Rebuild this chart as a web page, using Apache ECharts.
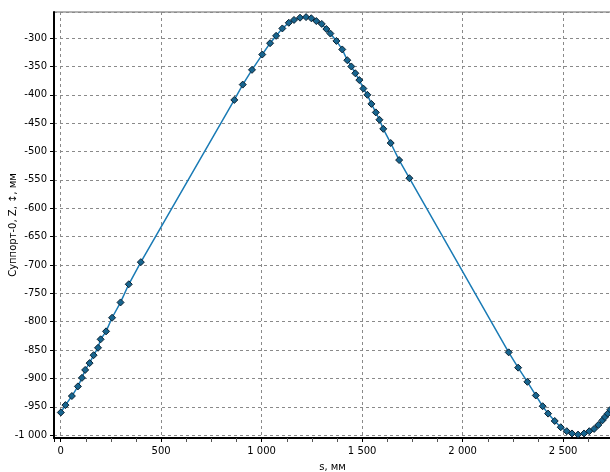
<!DOCTYPE html>
<html>
<head>
<meta charset="utf-8">
<script src="https://cdn.jsdelivr.net/npm/echarts@6/dist/echarts.min.js"></script>
<style>
html,body{margin:0;padding:0;background:#fff;}
#chart{width:610px;height:472px;}
</style>
</head>
<body>
<div id="chart"></div>
<script>
// путь s, мм
var sValues = [1, 24, 56, 86, 106, 122, 144, 164, 186, 199,
	226, 256, 298, 339, 399, 864, 906, 952, 1003, 1042,
	1072, 1103, 1135, 1161, 1191, 1221, 1247, 1272, 1299, 1322,
	1342, 1372, 1401, 1426, 1446, 1466, 1486, 1506, 1526, 1546,
	1568, 1586, 1605, 1642, 1684, 1735, 2229, 2276, 2322, 2364,
	2398, 2425, 2458, 2488, 2518, 2544, 2574, 2604, 2630, 2654,
	2675, 2695, 2708, 2722, 2735, 2750];
// Суппорт-0, Z, мм
var zValues = [-960, -947, -931, -914, -899, -885, -873, -859, -846, -831,
	-817, -793, -766, -734, -695, -409, -382, -356, -329, -309,
	-296, -283, -273, -268, -264, -263, -265, -270, -275, -284,
	-292, -305, -320, -339, -350, -362, -374, -389, -400, -416,
	-431, -444, -460, -485, -515, -547, -854, -881, -906, -930,
	-949, -962, -975, -986, -993, -997, -999, -997, -993, -989,
	-982, -974, -968, -962, -955, -945];

var xName = 's, мм';
var yName = 'Суппорт-0, Z, ↕, мм';

var points = [];
for (var i = 0; i < sValues.length; i++) {
	points.push([sValues[i], zValues[i]]);
}

function fmt(v) {
	return String(v).replace(/\B(?=(\d{3})+(?!\d))/g, ' ');
}

var gridLine = {
	show: true,
	lineStyle: { color: '#8a8a8a', width: 1, type: [3, 3] }
};

var option = {
	animation: false,
	backgroundColor: '#fff',
	grid: {
		left: 54, top: 12, right: -1, bottom: 34,
		outerBoundsMode: 'none',
		containLabel: false,
		show: true, borderColor: '#666', borderWidth: 1
	},
	xAxis: {
		type: 'value',
		min: -33, max: 2738,
		minInterval: 500, maxInterval: 500,
		name: xName,
		nameLocation: 'middle',
		nameGap: 24,
		nameMoveOverlap: false,
		nameTextStyle: { color: '#000', fontFamily: 'DejaVu Sans', fontSize: 10 },
		axisLine: { show: true, onZero: false, lineStyle: { color: '#000', width: 2 } },
		axisTick: { show: true, length: 4, lineStyle: { color: '#000' } },
		minorTick: { show: true, splitNumber: 4, length: 4, lineStyle: { color: '#555' } },
		axisLabel: {
			color: '#000', fontFamily: 'DejaVu Sans', fontSize: 10, margin: 8,
			showMinLabel: false, showMaxLabel: false,
			formatter: fmt
		},
		splitLine: gridLine
	},
	yAxis: {
		type: 'value',
		min: -1005, max: -254,
		minInterval: 50, maxInterval: 50,
		name: yName,
		nameLocation: 'middle',
		nameGap: 36,
		nameMoveOverlap: false,
		nameTextStyle: { color: '#000', fontFamily: 'DejaVu Sans', fontSize: 10 },
		axisLine: { show: true, onZero: false, lineStyle: { color: '#000', width: 2 } },
		axisTick: { show: true, length: 4, lineStyle: { color: '#000' } },
		axisLabel: {
			color: '#000', fontFamily: 'DejaVu Sans', fontSize: 10, margin: 7,
			showMinLabel: false, showMaxLabel: false,
			formatter: fmt
		},
		splitLine: gridLine
	},
	series: [
		{
			type: 'line',
			data: points,
			symbol: 'diamond',
			symbolSize: 7,
			showAllSymbol: true,
			clip: true,
			lineStyle: { color: '#1a7bb5', width: 1.5 },
			itemStyle: { color: '#17658f', borderColor: '#0b2233', borderWidth: 1 }
		}
	]
};

var myChart = echarts.init(document.getElementById('chart'));
myChart.setOption(option);
</script>
</body>
</html>
